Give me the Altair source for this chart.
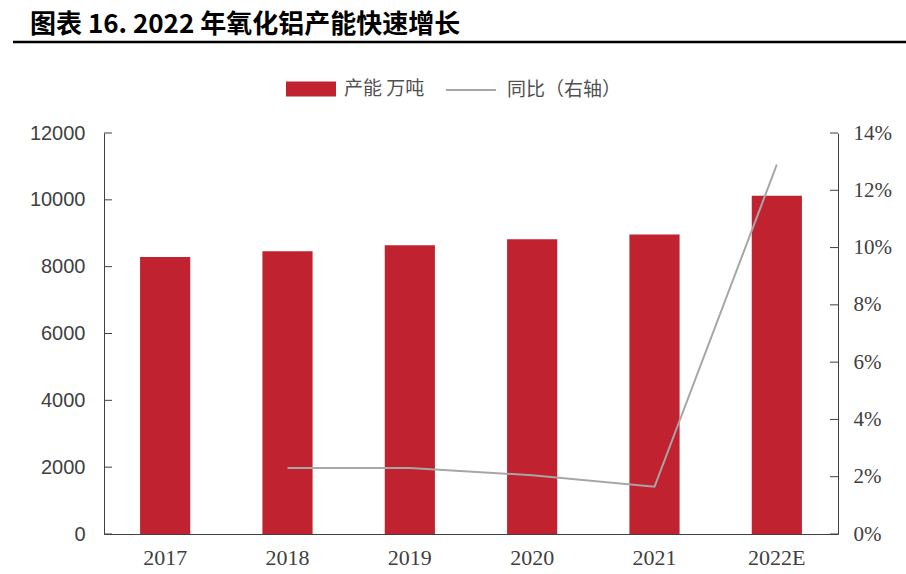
import altair as alt
import pandas as pd

# ---- data ----
years = ["2017", "2018", "2019", "2020", "2021", "2022E"]
capacity = [8290, 8460, 8640, 8820, 8960, 10120]          # 万吨
yoy = [None, 0.023, 0.023, 0.0205, 0.0165, 0.129]          # 同比
left_ticks = [0, 2000, 4000, 6000, 8000, 10000, 12000]
right_ticks = [0, 0.02, 0.04, 0.06, 0.08, 0.10, 0.12, 0.14]
title_text = ["图表 16. 2022 年氧化铝产能快速增长"]
bar_label = "产能 万吨"
line_label = "同比（右轴）"

df = pd.DataFrame({"year": years, "capacity": capacity, "yoy": yoy,
                   "s_bar": [bar_label] * len(years),
                   "s_line": [line_label] * len(years)})
lt = pd.DataFrame({"v": left_ticks})
rt = pd.DataFrame({"v": right_ticks})

W, H = 734, 401
RED = "#C0222F"
GRAY = "#A6A6A6"
AX = "#404040"
CJK = "Noto Sans CJK SC"

left_scale = alt.Scale(domain=[0, 12000], nice=False, zero=True)
right_scale = alt.Scale(domain=[0, 0.14], nice=False, zero=True)

xenc = alt.X(
    "year:N", sort=years, title=None,
    scale=alt.Scale(paddingInner=0.59, paddingOuter=0.295),
    axis=alt.Axis(labelAngle=0, ticks=False, tickSize=0, labelPadding=13,
                  labelFont="Liberation Serif", labelFontSize=22, labelColor=AX,
                  domainColor=AX, domainWidth=1, grid=False),
)

bars = alt.Chart(df).mark_bar(color=RED).encode(
    x=xenc,
    y=alt.Y("capacity:Q", scale=left_scale, title=None,
            axis=alt.Axis(values=left_ticks, format="d", ticks=False, tickSize=0,
                          grid=False, labelPadding=19, labelFont="Liberation Sans",
                          labelFontSize=20, labelColor=AX, domainColor=AX, domainWidth=1)),
    color=alt.Color("s_bar:N", scale=alt.Scale(domain=[bar_label], range=[RED]),
                    legend=alt.Legend(orient="none", legendX=182, legendY=-69, title=None,
                                      symbolType="M-1,-0.3H1V0.3H-1Z", symbolSize=2500,
                                      symbolStrokeWidth=0, labelFont=CJK, labelFontSize=19,
                                      labelColor="#505050", labelOffset=8)),
)

line = alt.Chart(df).mark_line(strokeWidth=2).encode(
    x=xenc,
    y=alt.Y("yoy:Q", scale=right_scale, title=None,
            axis=alt.Axis(orient="right", values=right_ticks, format=".0%", ticks=False,
                          tickSize=0, grid=False, labelPadding=15,
                          labelFont="Liberation Serif", labelFontSize=21, labelColor=AX,
                          domainColor=AX, domainWidth=1)),
    stroke=alt.Stroke("s_line:N", scale=alt.Scale(domain=[line_label], range=[GRAY]),
                      legend=alt.Legend(orient="none", legendX=341, legendY=-69, title=None,
                                        symbolType="stroke", symbolSize=2500,
                                        symbolStrokeWidth=2, labelFont=CJK, labelFontSize=19,
                                        labelColor="#505050", labelOffset=10)),
)

lticks = alt.Chart(lt).mark_rule(color=AX, strokeWidth=1).encode(
    x=alt.value(0), x2=alt.value(8),
    y=alt.Y("v:Q", scale=left_scale, axis=None),
)
rticks = alt.Chart(rt).mark_rule(color=AX, strokeWidth=1).encode(
    x=alt.value(W - 8), x2=alt.value(W),
    y=alt.Y("v:Q", scale=right_scale, axis=None),
)

title = alt.Chart(pd.DataFrame({"t": title_text})).mark_text(
    align="left", baseline="alphabetic", font=CJK, fontSize=26, fontWeight="bold",
    color="black",
).encode(x=alt.value(-74), y=alt.value(-100), text="t:N")

underline = alt.Chart(pd.DataFrame({"a": [0]})).mark_rule(
    color="black", strokeWidth=2.5
).encode(x=alt.value(-91), x2=alt.value(W + 68), y=alt.value(-91))

chart = alt.layer(bars, line, lticks, rticks, title, underline).resolve_scale(
    y="independent", color="independent", stroke="independent"
).properties(
    width=W, height=H,
    padding={"left": 104, "top": 133, "right": 68, "bottom": 40},
    autosize=alt.AutoSizeParams(type="none"),
).configure_view(strokeWidth=0)

chart.save("out.html", embed_options={"renderer": "svg", "actions": False})
